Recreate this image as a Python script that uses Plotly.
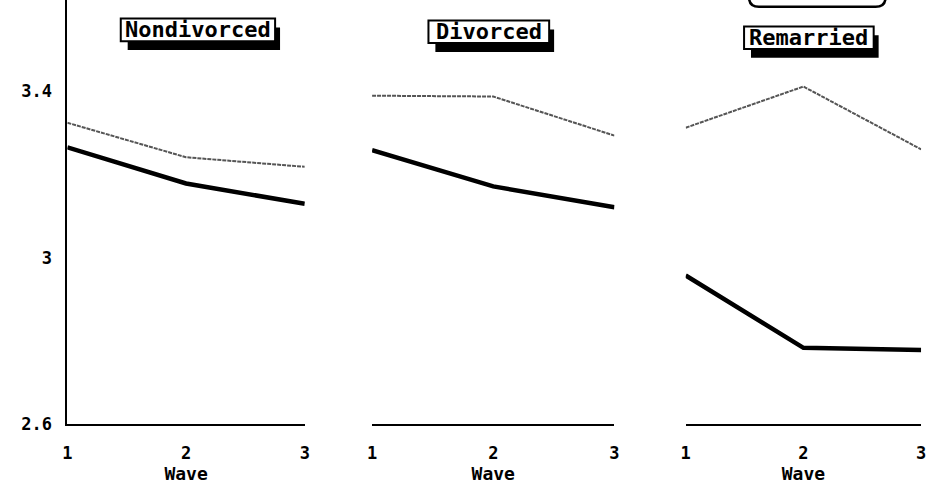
import plotly.graph_objects as go

waves = [1, 2, 3]
groups = ["Nondivorced", "Divorced", "Remarried"]
gray_series = {
    "Nondivorced": [3.325, 3.242, 3.219],
    "Divorced": [3.390, 3.388, 3.294],
    "Remarried": [3.313, 3.412, 3.261],
}
black_series = {
    "Nondivorced": [3.266, 3.179, 3.130],
    "Divorced": [3.259, 3.172, 3.122],
    "Remarried": [2.958, 2.784, 2.779],
}
y_ticks = [2.6, 3.0, 3.4]
y_ticklabels = ["2.6", "3", "3.4"]
x_ticklabels = ["1", "2", "3"]

W, H = 942, 501
FONT = "DejaVu Sans Mono"

def px_x(p):
    return p / W

def px_y(p):
    return 1 - p / H

domains = [(63, 303), (371, 616), (688, 926)]
axis_names = ["x", "x2", "x3"]

fig = go.Figure()
for i, g in enumerate(groups):
    fig.add_trace(go.Scatter(x=waves, y=gray_series[g], mode="lines",
                             line=dict(color="#555555", width=2, dash="4px,1px"),
                             xaxis=axis_names[i], yaxis="y", showlegend=False))
    fig.add_trace(go.Scatter(x=waves, y=black_series[g], mode="lines",
                             line=dict(color="black", width=4.5),
                             xaxis=axis_names[i], yaxis="y", showlegend=False))

layout = dict(
    width=W, height=H, margin=dict(l=0, r=0, t=0, b=0),
    paper_bgcolor="white", plot_bgcolor="white",
    font=dict(family=FONT, color="black"),
    yaxis=dict(domain=[px_y(433), 1.0], range=[2.6, 3.62], tickvals=y_ticks,
               ticktext=["<b>%s</b>" % t for t in y_ticklabels],
               showgrid=False, zeroline=False, showline=True, linecolor="black",
               linewidth=2, anchor="x", ticks="", ticklabelstandoff=10,
               tickfont=dict(size=17, family=FONT)),
)
for i, (a, b) in enumerate(domains):
    key = "xaxis" if i == 0 else "xaxis%d" % (i + 1)
    layout[key] = dict(domain=[px_x(a), px_x(b)], range=[1, 3], tickvals=waves,
                       ticktext=["<b>%s</b>" % t for t in x_ticklabels],
                       showgrid=False, zeroline=False, showline=True,
                       linecolor="black", linewidth=2, anchor="y", ticks="",
                       ticklabelstandoff=12,
                       tickfont=dict(size=17, family=FONT),
                       title=dict(text="<b>Wave</b>", font=dict(size=18, family=FONT), standoff=0))
fig.update_layout(**layout)

# panel titles: white boxed label with a black drop shadow (shape)
title_boxes = [(117, 19, 273, 42), (428, 21, 550, 44), (747, 27, 878, 50)]
for g, (bx0, by0, bx1, by1) in zip(groups, title_boxes):
    fig.add_shape(type="rect", xref="paper", yref="paper",
                  x0=px_x(bx0 + 7), x1=px_x(bx1 + 5),
                  y0=px_y(by1 + 9), y1=px_y(by0 + 9),
                  fillcolor="black", line=dict(width=0))
    fig.add_shape(type="rect", xref="paper", yref="paper",
                  x0=px_x(bx0), x1=px_x(bx1), y0=px_y(by1), y1=px_y(by0),
                  fillcolor="white", line=dict(color="black", width=2))
    fig.add_annotation(x=px_x((bx0 + bx1) / 2), y=px_y((by0 + by1) / 2),
                       xref="paper", yref="paper",
                       xanchor="center", yanchor="middle",
                       text="<b>%s</b>" % g, showarrow=False,
                       font=dict(size=22, family=FONT, color="black"))

# partial legend box at top-right (cut off)
x0, x1, yb = px_x(752), px_x(890), px_y(7)
r = 10 / W
ry = 10 / H
path = (f"M {x0},1.02 L {x0},{yb + ry} Q {x0},{yb} {x0 + r},{yb} "
        f"L {x1 - r},{yb} Q {x1},{yb} {x1},{yb + ry} L {x1},1.02")
fig.add_shape(type="path", xref="paper", yref="paper", path=path,
              line=dict(color="black", width=2.5))

fig.write_html("out.html")
